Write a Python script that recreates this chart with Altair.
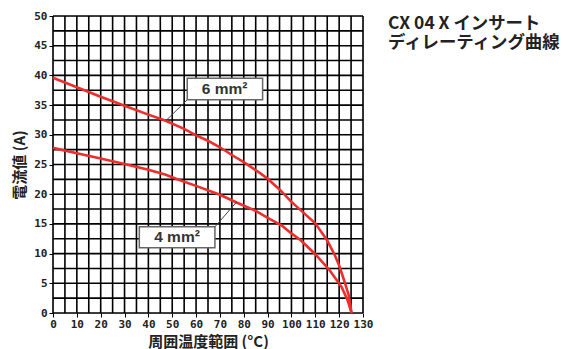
import altair as alt
import pandas as pd

# --- data ---
temp_6 = [0, 10, 20, 30, 40, 47, 55, 60, 65, 70, 75, 80, 87, 90, 95, 100, 105, 110, 115, 118, 120, 122, 124, 125.2]
amp_6 = [39.6, 38.0, 36.4, 34.9, 33.4, 32.4, 31.0, 29.9, 29.0, 27.9, 26.6, 25.4, 23.5, 22.6, 20.8, 18.7, 16.9, 15.1, 12.2, 9.9, 8.0, 5.6, 3.0, 0.0]
temp_4 = [0, 10, 20, 30, 40, 47, 53, 60, 70, 77, 85, 91, 96, 100, 104, 110, 116, 121, 123.5, 125.2]
amp_4 = [27.8, 26.9, 26.0, 25.1, 24.1, 23.3, 22.4, 21.4, 19.9, 18.6, 17.2, 15.8, 14.7, 13.4, 12.2, 9.9, 7.2, 4.4, 2.2, 0.0]

series_names = ["6 mm²", "4 mm²"]
label_x = [72.0, 52.0]
label_y = [37.7, 12.75]
box_x1 = [56.3, 36.2]
box_x2 = [87.9, 67.9]
box_y1 = [35.9, 11.0]
box_y2 = [39.5, 14.5]
lead_x1 = [56.3, 67.9]
lead_y1 = [35.9, 14.5]
lead_x2 = [47.4, 77.0]
lead_y2 = [32.4, 18.7]

x_grid = [i * 5 for i in range(27)]
y_grid = [i * 2.5 for i in range(21)]
x_ticks = list(range(0, 131, 10))
y_ticks = list(range(0, 51, 5))

title_lines = ["CX 04 X インサート", "ディレーティング曲線"]
x_title = "周囲温度範囲 (°C)"
y_title = "電流値 (A)"

curves = pd.DataFrame(
    {"temp": temp_6 + temp_4,
     "amp": amp_6 + amp_4,
     "series": [series_names[0]] * len(temp_6) + [series_names[1]] * len(temp_4)}
)
labels = pd.DataFrame({"name": series_names, "lx": label_x, "ly": label_y,
                       "bx1": box_x1, "bx2": box_x2, "by1": box_y1, "by2": box_y2,
                       "x1": lead_x1, "y1": lead_y1, "x2": lead_x2, "y2": lead_y2})
xg = pd.DataFrame({"gx": x_grid})
yg = pd.DataFrame({"gy": y_grid})
titles = pd.DataFrame({"t": ["\n".join(title_lines)]})

xs = alt.Scale(domain=[0, 130], nice=False, zero=False)
ys = alt.Scale(domain=[0, 50], nice=False)

tick_font = "DejaVu Sans Mono"
title_font = "Noto Sans CJK JP"

xaxis = alt.Axis(values=x_ticks, grid=False, domain=False, tickColor="black", tickSize=4,
                 labelOverlap=False, labelFlush=False,
                 labelFont=tick_font, labelFontWeight="bold", labelFontSize=11, labelColor="#222",
                 labelPadding=1, title=x_title, titleFont=title_font, titleFontSize=15,
                 titleFontWeight="bold", titleColor="#222", titlePadding=5)
yaxis = alt.Axis(values=y_ticks, grid=False, domain=False, tickColor="black", tickSize=4,
                 labelOverlap=False, labelFlush=False,
                 labelFont=tick_font, labelFontWeight="bold", labelFontSize=11, labelColor="#222",
                 labelPadding=2, title=y_title, titleFont=title_font, titleFontSize=15,
                 titleFontWeight="bold", titleColor="#222", titlePadding=6)


def X(field):
    return alt.X(field, scale=xs, axis=xaxis)


def Y(field):
    return alt.Y(field, scale=ys, axis=yaxis)


vgrid = alt.Chart(xg).mark_rule(color="black", strokeWidth=1.6).encode(x=X("gx:Q"))
hgrid = alt.Chart(yg).mark_rule(color="black", strokeWidth=1.6).encode(y=Y("gy:Q"))

lines = alt.Chart(curves).mark_line(color="#ee2d2d", strokeWidth=2.6).encode(
    x=X("temp:Q"), y=Y("amp:Q"), detail="series:N")

leaders = alt.Chart(labels).mark_rule(color="#444", strokeWidth=1).encode(
    x=X("x1:Q"), y=Y("y1:Q"), x2="x2:Q", y2="y2:Q")
boxes = alt.Chart(labels).mark_rect(fill="white", stroke="#666", strokeWidth=1.5).encode(
    x=X("bx1:Q"), x2="bx2:Q", y=Y("by1:Q"), y2="by2:Q")
box_text = alt.Chart(labels).mark_text(font="Liberation Sans", fontWeight="bold", fontSize=15.5,
                                       color="#333").encode(x=X("lx:Q"), y=Y("ly:Q"), text="name:N")

title_text = alt.Chart(titles).mark_text(font=title_font, fontWeight="bold", fontSize=17.4,
                                         color="#222", align="left", baseline="top",
                                         lineBreak="\n", lineHeight=19).encode(
    x=alt.value(335), y=alt.value(-1), text="t:N")

chart = alt.layer(vgrid, hgrid, lines, leaders, boxes, box_text, title_text).properties(
    width=310, height=297,
    autosize=alt.AutoSizeParams(type="none"),
    padding={"left": 45, "top": 8, "right": 200, "bottom": 36},
).configure_view(stroke="black", strokeWidth=2).configure(background="white")

chart.save("out.html", embed_options={"renderer": "svg", "actions": False})
